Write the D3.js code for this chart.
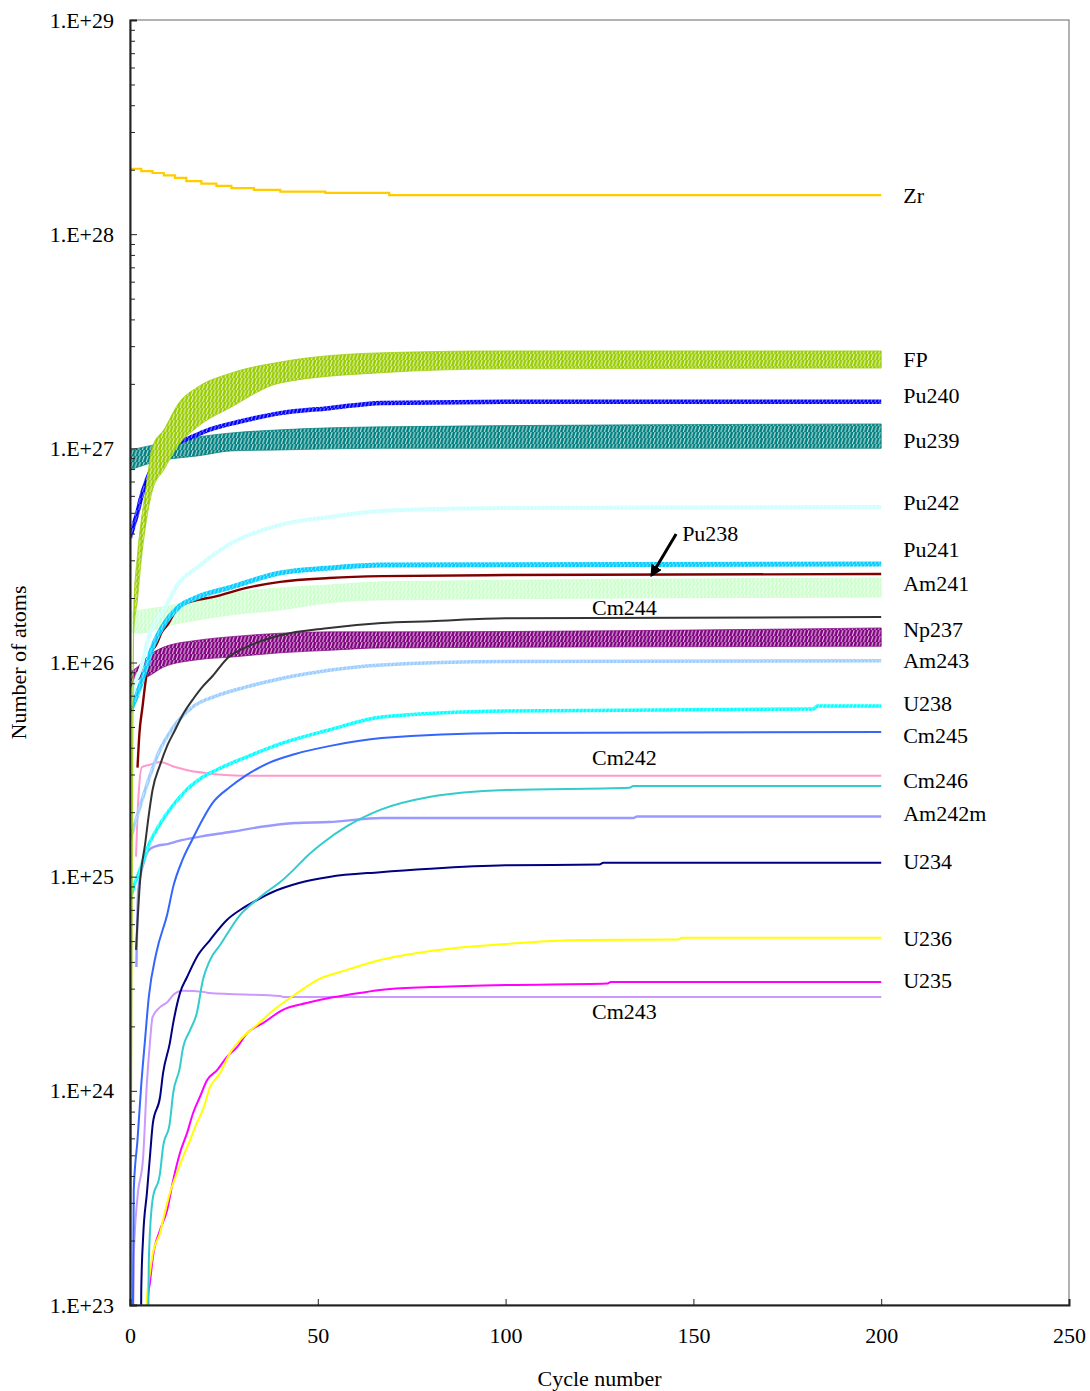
<!DOCTYPE html>
<html>
<head>
<meta charset="utf-8">
<script src="https://cdn.jsdelivr.net/npm/d3@7"></script>
<style>
  body { margin: 0; background: #fff; }
  text { font-family: "Liberation Serif", "Times New Roman", serif; fill: #000; }
</style>
</head>
<body>
<svg id="chart" width="1090" height="1391"></svg>
<script>
// ---- axis ticks ----
const cycleTicks = [0, 50, 100, 150, 200, 250];
const atomTicks = [1e23, 1e24, 1e25, 1e26, 1e27, 1e28, 1e29];
const atomTickLabels = ["1.E+23", "1.E+24", "1.E+25", "1.E+26", "1.E+27", "1.E+28", "1.E+29"];

// ---- nuclide inventories per cycle (values below 1e23 fall under the axis) ----
const cycZr = [0, 3, 6, 9, 12, 15, 19, 23, 27, 33, 40, 52, 69, 200];
const atomsZr = [2.02e28, 1.97e28, 1.93e28, 1.88e28, 1.83e28, 1.77e28, 1.72e28, 1.68e28, 1.64e28, 1.61e28, 1.58e28, 1.56e28, 1.52e28, 1.52e28];

// oscillating inventories: upper and lower values of each reload cycle
const cycFP = [0, 1, 2, 3, 4, 6, 9, 13, 18, 27, 40, 66, 100, 200];
const hiFP = [1e21, 1.80e26, 3.18e26, 4.63e26, 6.05e26, 1.02e27, 1.22e27, 1.63e27, 1.93e27, 2.25e27, 2.53e27, 2.79e27, 2.85e27, 2.85e27];
const loFP = [1e21, 1.39e26, 1.96e26, 3.01e26, 4.16e26, 6.39e26, 7.93e26, 1.04e27, 1.26e27, 1.56e27, 2.02e27, 2.25e27, 2.35e27, 2.37e27];

const cycPu240 = [0, 1, 2, 3, 4, 6, 9, 12, 16, 21, 29, 40, 53, 67, 100, 200];
const atomsPu240 = [3.82e26, 4.39e26, 5.04e26, 5.93e26, 6.74e26, 8.18e26, 9.31e26, 1.04e27, 1.12e27, 1.22e27, 1.33e27, 1.46e27, 1.54e27, 1.63e27, 1.65e27, 1.65e27];

const cycPu239 = [0, 9, 13, 18, 27, 40, 67, 200];
const hiPu239 = [9.82e26, 1.06e27, 1.09e27, 1.13e27, 1.18e27, 1.22e27, 1.26e27, 1.30e27];
const loPu239 = [7.93e26, 8.83e26, 9.02e26, 9.22e26, 9.73e26, 9.83e26, 1.00e27, 1.00e27];

const cycPu242 = [0, 1, 3, 5, 9, 13, 18, 27, 40, 53, 67, 100, 200];
const atomsPu242 = [6.33e25, 7.69e25, 9.53e25, 1.32e26, 1.76e26, 2.35e26, 2.79e26, 3.61e26, 4.39e26, 4.78e26, 5.10e26, 5.26e26, 5.32e26];

const cycPu241 = [0, 2, 3.5, 6, 9, 13, 18, 27, 40, 53, 67, 200];
const atomsPu241 = [5.88e25, 7.20e25, 8.56e25, 1.18e26, 1.50e26, 1.82e26, 2.02e26, 2.25e26, 2.62e26, 2.76e26, 2.85e26, 2.88e26];

const cycPu238 = [2, 2.5, 3.3, 4.2, 5.2, 7, 8.5, 10, 13, 18, 22, 31, 40, 53, 67, 100, 200];
const atomsPu238 = [3.23e25, 4.65e25, 6.15e25, 8.29e25, 1.08e26, 1.21e26, 1.39e26, 1.50e26, 1.82e26, 1.96e26, 2.02e26, 2.23e26, 2.38e26, 2.48e26, 2.53e26, 2.56e26, 2.59e26];

const cycAm241 = [0, 3, 9, 18, 27, 40, 53, 67, 200];
const hiAm241 = [1.72e26, 1.76e26, 1.82e26, 1.96e26, 2.11e26, 2.23e26, 2.30e26, 2.38e26, 2.48e26];
const loAm241 = [1.39e26, 1.37e26, 1.47e26, 1.58e26, 1.67e26, 1.76e26, 1.90e26, 1.96e26, 2.02e26];

const cycCm244 = [1.6, 2.7, 4, 5, 6, 8, 10, 12, 14, 17, 19, 22, 26, 31, 40, 53, 67, 80, 100, 200];
const atomsCm244 = [4.55e24, 9.65e24, 1.41e25, 1.94e25, 2.54e25, 3.32e25, 4.12e25, 4.84e25, 5.69e25, 6.83e25, 7.60e25, 8.65e25, 1.05e26, 1.18e26, 1.34e26, 1.45e26, 1.53e26, 1.56e26, 1.61e26, 1.63e26];

const cycNp237 = [0, 2, 4.5, 9, 18, 27, 40, 53, 67, 200];
const hiNp237 = [9.03e25, 9.53e25, 1.06e26, 1.18e26, 1.27e26, 1.32e26, 1.37e26, 1.39e26, 1.39e26, 1.45e26];
const loNp237 = [6.47e25, 8.29e25, 8.56e25, 9.53e25, 1.03e26, 1.06e26, 1.11e26, 1.14e26, 1.17e26, 1.19e26];

const cycAm243 = [0, 2, 4.3, 7.7, 11.4, 16.7, 23, 31, 40, 53, 67, 100, 200];
const atomsAm243 = [1.48e25, 1.94e25, 2.62e25, 3.82e25, 4.95e25, 6.20e25, 6.98e25, 7.69e25, 8.40e25, 9.20e25, 9.74e25, 1.01e26, 1.02e26];

const cycU238 = [0, 1, 3, 5, 7, 9, 12, 15, 19, 23, 31, 40, 53, 67, 100, 182, 183, 200];
const atomsU238 = [7.78e24, 8.96e24, 1.12e25, 1.41e25, 1.65e25, 1.88e25, 2.21e25, 2.54e25, 2.89e25, 3.15e25, 3.62e25, 4.17e25, 4.84e25, 5.57e25, 5.94e25, 6.07e25, 6.27e25, 6.27e25];

const cycCm245 = [0, 1, 2, 3, 4, 5, 7, 10, 11.5, 14, 16.5, 19.4, 22, 26.6, 31, 37, 44, 53, 67, 100, 200];
const atomsCm245 = [1e21, 3.44e23, 5.90e23, 1.07e24, 1.73e24, 2.74e24, 4.40e24, 6.77e24, 8.96e24, 1.20e25, 1.48e25, 1.86e25, 2.21e25, 2.62e25, 2.98e25, 3.40e25, 3.74e25, 4.07e25, 4.44e25, 4.69e25, 4.74e25];

const cycCm242 = [1.6, 2.2, 3.2, 5, 8, 12, 15, 20, 30, 200];
const atomsCm242 = [1.24e25, 2.28e25, 3.25e25, 3.32e25, 3.43e25, 3.25e25, 3.15e25, 3.05e25, 2.96e25, 2.96e25];

const cycCm246 = [0, 4, 5, 6, 8, 8.8, 10.6, 11.5, 13.3, 14, 16, 17.8, 19.4, 21.3, 24, 29.3, 33, 36, 40, 43.4, 47, 51.4, 57.8, 66.6, 80, 100, 133, 134, 200];
const atomsCm246 = [1e21, 1e21, 1.59e23, 3.09e23, 4.13e23, 5.47e23, 7.08e23, 9.77e23, 1.29e24, 1.55e24, 1.92e24, 2.31e24, 3.29e24, 4.08e24, 4.80e24, 6.62e24, 7.61e24, 8.39e24, 9.44e24, 1.07e25, 1.24e25, 1.44e25, 1.72e25, 2.05e25, 2.36e25, 2.54e25, 2.60e25, 2.65e25, 2.65e25];

const cycAm242m = [1.7, 2.2, 3.7, 5, 7, 10, 13, 18, 27, 35, 44, 53, 67, 134, 135, 200];
const atomsAm242m = [3.79e24, 8.60e24, 1.17e25, 1.33e25, 1.39e25, 1.42e25, 1.47e25, 1.53e25, 1.62e25, 1.71e25, 1.78e25, 1.80e25, 1.88e25, 1.88e25, 1.91e25, 1.91e25];

const cycU234 = [0, 2, 3, 3.5, 4.5, 5.3, 6.1, 8, 8.8, 10.6, 11.5, 13.3, 15.2, 17.8, 21.3, 25.8, 29.3, 33.8, 38, 45, 53, 66.6, 80, 100, 125, 126, 200];
const atomsU234 = [1e21, 1e21, 1.18e23, 2.08e23, 3.33e23, 4.91e23, 7.08e23, 9.36e23, 1.21e24, 1.67e24, 2.07e24, 2.86e24, 3.40e24, 4.22e24, 5.06e24, 6.28e24, 6.99e24, 7.78e24, 8.48e24, 9.34e24, 9.97e24, 1.05e25, 1.09e25, 1.13e25, 1.14e25, 1.16e25, 1.16e25];

const cycCm243 = [0, 1, 2, 3.5, 4.5, 5.3, 6, 8, 10, 11.5, 14, 20, 21, 40, 41, 200];
const atomsCm243 = [1e21, 1.68e23, 3.19e23, 4.91e23, 1.09e24, 1.67e24, 2.21e24, 2.46e24, 2.60e24, 2.80e24, 2.93e24, 2.89e24, 2.86e24, 2.77e24, 2.74e24, 2.74e24];

const cycU236 = [0, 4, 4.5, 5.3, 6.1, 8, 8.8, 10.6, 12.5, 14.1, 16, 17.8, 19.4, 21.3, 24, 26.6, 30, 33.8, 37.3, 40.7, 44.5, 49.8, 57.8, 66.6, 80, 100, 120, 146, 147, 200];
const atomsU236 = [1e21, 1e21, 1.06e23, 1.41e23, 1.75e23, 2.17e23, 2.49e23, 3.33e23, 4.13e23, 4.91e23, 5.90e23, 7.08e23, 8.14e23, 1.04e24, 1.21e24, 1.50e24, 1.78e24, 2.03e24, 2.31e24, 2.57e24, 2.86e24, 3.29e24, 3.67e24, 4.08e24, 4.50e24, 4.85e24, 5.06e24, 5.09e24, 5.19e24, 5.19e24];

const cycU235 = [0, 4, 4.8, 5.3, 6.1, 8, 9.9, 11.5, 13.3, 15.2, 16.8, 18.6, 20.5, 23.2, 25.8, 28.5, 31.2, 35.4, 40.7, 47, 53, 57.8, 66.6, 80, 100, 127, 128, 200];
const atomsU235 = [1e21, 1e21, 1.09e23, 1.27e23, 1.68e23, 2.24e23, 2.78e23, 3.83e23, 5.13e23, 6.36e23, 7.88e23, 9.36e23, 1.12e24, 1.25e24, 1.44e24, 1.60e24, 1.86e24, 2.07e24, 2.39e24, 2.57e24, 2.71e24, 2.80e24, 2.96e24, 3.05e24, 3.12e24, 3.17e24, 3.22e24, 3.22e24];

// ---- labels ----
const endLabels = ["Zr", "FP", "Pu240", "Pu239", "Pu242", "Pu241", "Am241", "Np237", "Am243", "U238", "Cm245", "Cm246", "Am242m", "U234", "U236", "U235"];
const endLabelAt = [1.52e28, 2.61e27, 1.76e27, 1.09e27, 5.62e26, 3.39e26, 2.35e26, 1.43e26, 1.02e26, 6.47e25, 4.59e25, 2.83e25, 1.98e25, 1.18e25, 5.17e24, 3.29e24];
const inlineLabels = ["Cm244", "Cm242", "Cm243", "Pu238"];
const inlineLabelCycle = [123, 123, 123, 147];
const inlineLabelAt = [1.82e26, 3.62e25, 2.36e24, 4.02e26];

// ---- drawing ----
const svg = d3.select("#chart");
const plotL = 130, plotR = 1069, plotT = 20, plotB = 1305;

const x = d3.scaleLinear().domain([0, 250]).range([plotL, plotR]);
const y = d3.scaleLog().domain([1e23, 1e29]).range([plotB, plotT]);

const defs = svg.append("defs");
defs.append("clipPath").attr("id", "plotClip")
  .append("rect").attr("x", plotL).attr("y", plotT).attr("width", plotR - plotL).attr("height", plotB - plotT);

// one stripe per reload cycle gives the saw-tooth texture of oscillating inventories
const cycleWidth = x(1) - x(0);
function zigzagPattern(id, color, gap) {
  const h = 6;
  const p = defs.append("pattern").attr("id", id)
    .attr("patternUnits", "userSpaceOnUse")
    .attr("x", x(0)).attr("y", 0)
    .attr("width", cycleWidth).attr("height", h);
  p.append("rect").attr("width", cycleWidth).attr("height", h).attr("fill", color);
  p.append("line")
    .attr("x1", cycleWidth * 0.8).attr("y1", 0)
    .attr("x2", cycleWidth * 0.3).attr("y2", h)
    .attr("stroke", "#fff").attr("stroke-opacity", 0.75).attr("stroke-width", gap);
  return `url(#${id})`;
}

const toPts = (c, v) => c.map((ci, i) => [ci, v[i]]);
const toBand = (c, hi, lo) => c.map((ci, i) => ({ c: ci, hi: hi[i], lo: lo[i] }));

// drawing order (later on top)
const series = [
  { name: "Zr", kind: "line", pts: toPts(cycZr, atomsZr), color: "#FFCC00", width: 2.2, step: true },
  { name: "Cm243", kind: "line", pts: toPts(cycCm243, atomsCm243), color: "#CC99FF", width: 2 },
  { name: "U235", kind: "line", pts: toPts(cycU235, atomsU235), color: "#FF00FF", width: 2 },
  { name: "U236", kind: "line", pts: toPts(cycU236, atomsU236), color: "#FFFF00", width: 2 },
  { name: "U234", kind: "line", pts: toPts(cycU234, atomsU234), color: "#000080", width: 2 },
  { name: "Am242m", kind: "line", pts: toPts(cycAm242m, atomsAm242m), color: "#9999FF", width: 2.4 },
  { name: "Cm246", kind: "line", pts: toPts(cycCm246, atomsCm246), color: "#33CCCC", width: 2 },
  { name: "Cm242", kind: "line", pts: toPts(cycCm242, atomsCm242), color: "#FF99CC", width: 2 },
  { name: "Cm245", kind: "line", pts: toPts(cycCm245, atomsCm245), color: "#3366FF", width: 2 },
  { name: "U238", kind: "fuzzy", pts: toPts(cycU238, atomsU238), color: "#00FFFF", width: 3.5 },
  { name: "Am243", kind: "fuzzy", pts: toPts(cycAm243, atomsAm243), color: "#99CCFF", width: 3.5 },
  { name: "Np237", kind: "band", band: toBand(cycNp237, hiNp237, loNp237), color: "#800080" },
  { name: "Cm244", kind: "line", pts: toPts(cycCm244, atomsCm244), color: "#333333", width: 2 },
  { name: "Am241", kind: "band", band: toBand(cycAm241, hiAm241, loAm241), color: "#CCFFCC" },
  { name: "Pu238", kind: "line", pts: toPts(cycPu238, atomsPu238), color: "#800000", width: 2.4 },
  { name: "Pu241", kind: "fuzzy", pts: toPts(cycPu241, atomsPu241), color: "#00CCFF", width: 5 },
  { name: "Pu242", kind: "fuzzy", pts: toPts(cycPu242, atomsPu242), color: "#CCFFFF", width: 4 },
  { name: "Pu239", kind: "band", band: toBand(cycPu239, hiPu239, loPu239), color: "#008080" },
  { name: "Pu240", kind: "fuzzy", pts: toPts(cycPu240, atomsPu240), color: "#0000FF", width: 4.5 },
  { name: "FP", kind: "band", band: toBand(cycFP, hiFP, loFP), color: "#99CC00" }
];

const plot = svg.append("g").attr("clip-path", "url(#plotClip)");
const curve = d3.curveMonotoneX;
const line = d3.line().x(d => x(d[0])).y(d => y(d[1])).curve(curve);
const stepLine = d3.line().x(d => x(d[0])).y(d => y(d[1])).curve(d3.curveStepAfter);
const area = d3.area().x(d => x(d.c)).y0(d => y(d.lo)).y1(d => y(d.hi)).curve(curve);

series.forEach(s => {
  if (s.kind === "band") {
    const fill = zigzagPattern("zz-" + s.name, s.color, 1.1);
    plot.append("path").datum(s.band)
      .attr("d", area).attr("fill", fill)
      .attr("stroke", s.color).attr("stroke-width", 1).attr("stroke-opacity", 0.7);
  } else if (s.kind === "fuzzy") {
    const stroke = zigzagPattern("zz-" + s.name, s.color, 0.8);
    plot.append("path").datum(s.pts)
      .attr("d", line).attr("fill", "none")
      .attr("stroke", stroke).attr("stroke-width", s.width)
      .attr("stroke-linejoin", "round");
  } else {
    plot.append("path").datum(s.pts)
      .attr("d", s.step ? stepLine : line).attr("fill", "none")
      .attr("stroke", s.color).attr("stroke-width", s.width)
      .attr("stroke-linejoin", "miter");
  }
});

// frame
svg.append("rect").attr("x", plotL).attr("y", plotT)
  .attr("width", plotR - plotL).attr("height", plotB - plotT)
  .attr("fill", "none").attr("stroke", "#666").attr("stroke-width", 1);

// y axis: major and minor ticks point inward
const minorTicks = [];
for (let e = 23; e < 29; e++) for (let k = 2; k <= 9; k++) minorTicks.push(k * Math.pow(10, e));

const yMinor = svg.append("g").attr("transform", `translate(${plotL},0)`)
  .call(d3.axisLeft(y).tickValues(minorTicks).tickSize(-5).tickFormat(""));
yMinor.select(".domain").remove();
yMinor.selectAll("line").attr("stroke", "#222");

const yAxis = svg.append("g").attr("transform", `translate(${plotL},0)`)
  .call(d3.axisLeft(y).tickValues(atomTicks).tickSize(-7).tickPadding(16)
    .tickFormat((d, i) => atomTickLabels[i]));
yAxis.select(".domain").attr("stroke", "#222").attr("stroke-width", 2);
yAxis.selectAll("line").attr("stroke", "#222");
yAxis.selectAll("text").attr("font-size", 22).attr("font-family", "Liberation Serif, Times New Roman, serif");

// x axis
const xAxis = svg.append("g").attr("transform", `translate(0,${plotB})`)
  .call(d3.axisBottom(x).tickValues(cycleTicks).tickSize(-6).tickPadding(22).tickFormat(d3.format("d")));
xAxis.select(".domain").attr("stroke", "#222").attr("stroke-width", 2);
xAxis.selectAll("line").attr("stroke", "#222");
xAxis.selectAll("text").attr("font-size", 22).attr("font-family", "Liberation Serif, Times New Roman, serif");

// axis titles
svg.append("text").attr("x", (plotL + plotR) / 2).attr("y", 1386)
  .attr("text-anchor", "middle").attr("font-size", 22).text("Cycle number");
svg.append("text")
  .attr("transform", `translate(26,${(plotT + plotB) / 2}) rotate(-90)`)
  .attr("text-anchor", "middle").attr("font-size", 22).text("Number of atoms");

// nuclide labels at the end of the curves
const labelX = x(200) + 22;
svg.append("g").selectAll("text").data(endLabels).join("text")
  .attr("x", labelX)
  .attr("y", (d, i) => y(endLabelAt[i]))
  .attr("dy", "0.35em")
  .attr("font-size", 22)
  .text(d => d);

svg.append("g").selectAll("text").data(inlineLabels).join("text")
  .attr("x", (d, i) => x(inlineLabelCycle[i]))
  .attr("y", (d, i) => y(inlineLabelAt[i]))
  .attr("dy", "0.35em")
  .attr("font-size", 22)
  .text(d => d);

// arrow pointing from the Pu238 label to its curve
defs.append("marker").attr("id", "arrowHead")
  .attr("viewBox", "0 0 10 10").attr("refX", 8).attr("refY", 5)
  .attr("markerWidth", 4).attr("markerHeight", 4).attr("orient", "auto")
  .append("path").attr("d", "M0,0 L10,5 L0,10 z").attr("fill", "#000");
svg.append("line")
  .attr("x1", x(145.4)).attr("y1", y(3.98e26))
  .attr("x2", x(138.9)).attr("y2", y(2.56e26))
  .attr("stroke", "#000").attr("stroke-width", 3)
  .attr("marker-end", "url(#arrowHead)");
</script>
</body>
</html>
